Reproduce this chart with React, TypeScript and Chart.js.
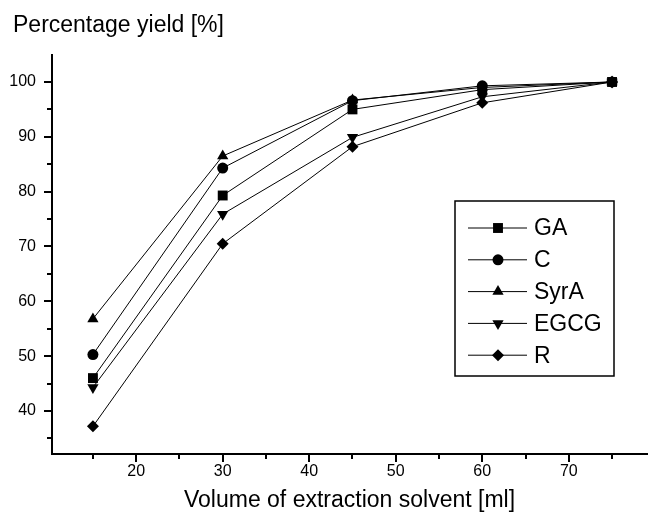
import React, { useEffect, useRef } from 'react';
import { Chart, registerables } from 'chart.js';

Chart.register(...registerables);

// ---- data ----
const xValues = [15, 30, 45, 60, 75];
const seriesNames = ['GA', 'C', 'SyrA', 'EGCG', 'R'];
const gaValues = [46.0, 79.3, 95.0, 98.6, 100];
const cValues = [50.3, 84.3, 96.6, 99.3, 100];
const syrAValues = [56.8, 86.5, 96.7, 99.0, 100];
const egcgValues = [44.3, 75.9, 89.9, 97.3, 100];
const rValues = [37.2, 70.5, 88.2, 96.2, 100];
const yTickLabels = [40, 50, 60, 70, 80, 90, 100];
const xTickLabels = [20, 30, 40, 50, 60, 70];
const yAxisTitle = 'Percentage yield [%]';
const xAxisTitle = 'Volume of extraction solvent [ml]';

const FONT = '"Liberation Sans", Arial, Helvetica, sans-serif';

const markerStyles = [
  { pointStyle: 'rect', radius: 7, rotation: 0 },
  { pointStyle: 'circle', radius: 5.5, rotation: 0 },
  { pointStyle: 'triangle', radius: 6.5, rotation: 0 },
  { pointStyle: 'triangle', radius: 6.5, rotation: 180 },
  { pointStyle: 'rectRot', radius: 6, rotation: 0 },
];

function drawMarker(ctx: CanvasRenderingContext2D, style: string, r: number, rot: number, x: number, y: number) {
  ctx.save();
  ctx.translate(x, y);
  ctx.rotate((rot * Math.PI) / 180);
  ctx.beginPath();
  if (style === 'rect') {
    const s = Math.SQRT1_2 * r;
    ctx.rect(-s, -s, 2 * s, 2 * s);
  } else if (style === 'circle') {
    ctx.arc(0, 0, r, 0, Math.PI * 2);
  } else if (style === 'triangle') {
    const a = -Math.PI / 2;
    for (let k = 0; k < 3; k++) {
      const ang = a + (k * 2 * Math.PI) / 3;
      const px = Math.cos(ang) * r;
      const py = Math.sin(ang) * r;
      if (k === 0) ctx.moveTo(px, py);
      else ctx.lineTo(px, py);
    }
    ctx.closePath();
  } else if (style === 'rectRot') {
    ctx.moveTo(0, -r);
    ctx.lineTo(r, 0);
    ctx.lineTo(0, r);
    ctx.lineTo(-r, 0);
    ctx.closePath();
  }
  ctx.fillStyle = '#000';
  ctx.fill();
  ctx.restore();
}

const decorPlugin = {
  id: 'decor',
  afterDraw(chart: any) {
    const ctx: CanvasRenderingContext2D = chart.ctx;
    const xs = chart.scales.x;
    const ys = chart.scales.y;
    const area = chart.chartArea;
    ctx.save();
    ctx.strokeStyle = '#000';
    ctx.lineWidth = 2;
    // y ticks (major at labels, minor between)
    for (let v = 35; v <= 100; v += 5) {
      const py = Math.round(ys.getPixelForValue(v));
      const len = yTickLabels.includes(v) ? 8 : 5;
      ctx.beginPath();
      ctx.moveTo(area.left - len, py);
      ctx.lineTo(area.left, py);
      ctx.stroke();
    }
    for (let v = 15; v <= 75; v += 5) {
      const px = Math.round(xs.getPixelForValue(v));
      const len = xTickLabels.includes(v) ? 8 : 5;
      ctx.beginPath();
      ctx.moveTo(px, area.bottom);
      ctx.lineTo(px, area.bottom + len);
      ctx.stroke();
    }
    // axis titles
    ctx.fillStyle = '#000';
    ctx.font = `23px ${FONT}`;
    ctx.textAlign = 'left';
    ctx.textBaseline = 'alphabetic';
    ctx.fillText(yAxisTitle, 13, 32);
    ctx.textAlign = 'center';
    ctx.fillText(xAxisTitle, (area.left + area.right) / 2, 507);

    // legend
    const bx = 455, by = 201, bw = 159, bh = 175;
    ctx.lineWidth = 1.5;
    ctx.strokeRect(bx, by, bw, bh);
    chart.data.datasets.forEach((ds: any, i: number) => {
      const ly = 228 + i * 31.8;
      ctx.lineWidth = 1;
      ctx.beginPath();
      ctx.moveTo(468, ly);
      ctx.lineTo(527, ly);
      ctx.stroke();
      const m = markerStyles[i];
      drawMarker(ctx, m.pointStyle, m.radius, m.rotation, 498, ly);
      ctx.fillStyle = '#000';
      ctx.font = `23px ${FONT}`;
      ctx.textAlign = 'left';
      ctx.textBaseline = 'middle';
      ctx.fillText(ds.label, 534, ly + 1);
    });
    ctx.restore();
  },
};

export default function App() {
  const ref = useRef<HTMLCanvasElement | null>(null);
  useEffect(() => {
    document.body.style.margin = '0';
    const canvas = ref.current;
    if (!canvas) return;
    const seriesValues = [gaValues, cValues, syrAValues, egcgValues, rValues];
    const chart = new Chart(canvas, {
      type: 'line',
      data: {
        datasets: seriesNames.map((name, i) => ({
          label: name,
          data: xValues.map((x, j) => ({ x, y: seriesValues[i][j] })),
          borderColor: '#000',
          backgroundColor: '#000',
          borderWidth: 1,
          pointStyle: markerStyles[i].pointStyle as any,
          pointRadius: markerStyles[i].radius,
          pointRotation: markerStyles[i].rotation,
          pointBorderWidth: 0,
          pointBackgroundColor: '#000',
          tension: 0,
          fill: false,
        })),
      },
      options: {
        animation: false,
        responsive: false,
        devicePixelRatio: 1,
        layout: { padding: { top: 55, right: 1, left: 0, bottom: 0 } },
        plugins: {
          legend: { display: false },
          title: { display: false },
          tooltip: { enabled: false },
        },
        scales: {
          x: {
            type: 'linear',
            min: 10.27,
            max: 79.04,
            afterFit: (s: any) => { s.height = 63; },
            grid: { display: false, drawTicks: false },
            border: { display: true, width: 2, color: '#000' },
            ticks: {
              stepSize: 10,
              includeBounds: false,
              padding: 8,
              color: '#000',
              font: { family: FONT, size: 16 },
              maxRotation: 0,
              callback: (v: any) => (xTickLabels.includes(Number(v)) ? String(v) : ''),
            },
          },
          y: {
            type: 'linear',
            min: 32.16,
            max: 104.92,
            afterFit: (s: any) => { s.width = 52; },
            grid: { display: false, drawTicks: false },
            border: { display: true, width: 2, color: '#000' },
            ticks: {
              stepSize: 10,
              includeBounds: false,
              padding: 16,
              color: '#000',
              font: { family: FONT, size: 16 },
              callback: (v: any) => (yTickLabels.includes(Number(v)) ? String(v) : ''),
            },
          },
        },
      },
      plugins: [decorPlugin],
    });
    return () => chart.destroy();
  }, []);
  return <canvas ref={ref} width={654} height={517} style={{ display: 'block' }} />;
}
